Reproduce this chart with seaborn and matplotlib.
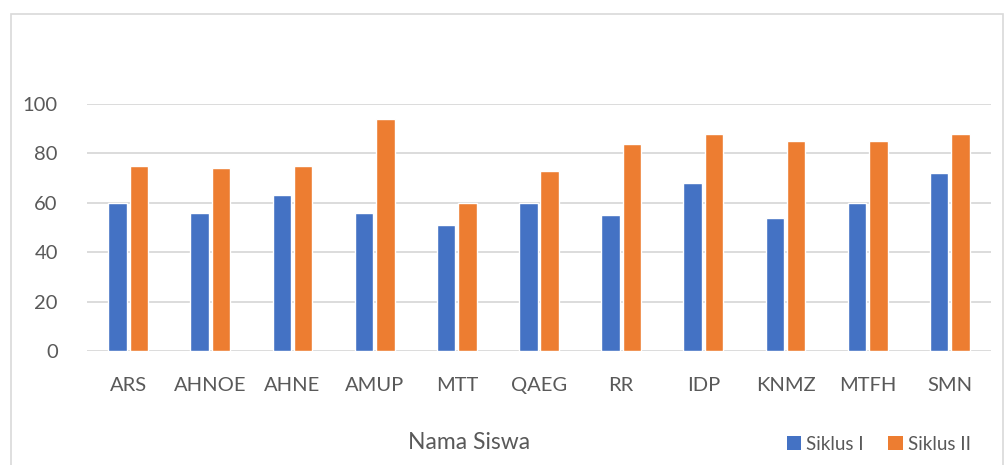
import matplotlib
matplotlib.use("Agg")
import matplotlib.pyplot as plt
import seaborn as sns
import pandas as pd
from matplotlib.patches import Rectangle, Patch

siswa = ["ARS", "AHNOE", "AHNE", "AMUP", "MTT", "QAEG", "RR", "IDP", "KNMZ", "MTFH", "SMN"]
siklus_1 = [60, 56, 63, 56, 51, 60, 55, 68, 54, 60, 72]
siklus_2 = [75, 74, 75, 94, 60, 73, 84, 88, 85, 85, 88]
series = ["Siklus I", "Siklus II"]
colors = ["#4472C4", "#ED7D31"]

df = pd.DataFrame({
    "Nama Siswa": siswa * 2,
    "Nilai": siklus_1 + siklus_2,
    "Siklus": [series[0]] * len(siswa) + [series[1]] * len(siswa),
})

sns.set_style("white")
plt.rcParams["font.family"] = ["Lato", "DejaVu Sans"]

W, H = 1005, 465
fig = plt.figure(figsize=(W / 100, H / 100), dpi=100)
ax = fig.add_axes([87 / W, 1 - 351 / H, (991 - 87) / W, (351 - 104) / H])

sns.barplot(
    data=df, x="Nama Siswa", y="Nilai", hue="Siklus",
    palette=colors, width=0.52, gap=0.14, ax=ax, legend=False,
    saturation=1,
)

ax.set_ylim(0, 100)
ax.set_xlim(-0.5, len(siswa) - 0.5)
ax.set_yticks(range(0, 101, 20))
ax.yaxis.grid(True, color="#D9D9D9", linewidth=1.3)
ax.set_axisbelow(True)
for s in ax.spines.values():
    s.set_visible(False)
ax.tick_params(axis="both", length=0, labelsize=14.5, colors="#595959")
ax.tick_params(axis="y", pad=21)
ax.tick_params(axis="x", pad=19)
ax.set_xlabel("")
ax.set_ylabel("")

fig.text(469 / W, 1 - 442 / H, "Nama Siswa", ha="center", va="center",
         fontsize=16.5, color="#595959")

handles = [Patch(facecolor=c, edgecolor="none") for c in colors]
fig.legend(handles, series, loc="center right", bbox_to_anchor=(988 / W, 1 - 444 / H),
           ncol=2, frameon=False, fontsize=13.5, labelcolor="#595959",
           handlelength=0.75, handleheight=0.75, handletextpad=0.3, columnspacing=1.3)

fig.patches.append(Rectangle((11 / W, -0.01), (1003 - 11) / W, 1 - 14 / H + 0.01,
                             transform=fig.transFigure, fill=False,
                             edgecolor="#D9D9D9", linewidth=1.2))

fig.savefig("out.png", dpi=100)
